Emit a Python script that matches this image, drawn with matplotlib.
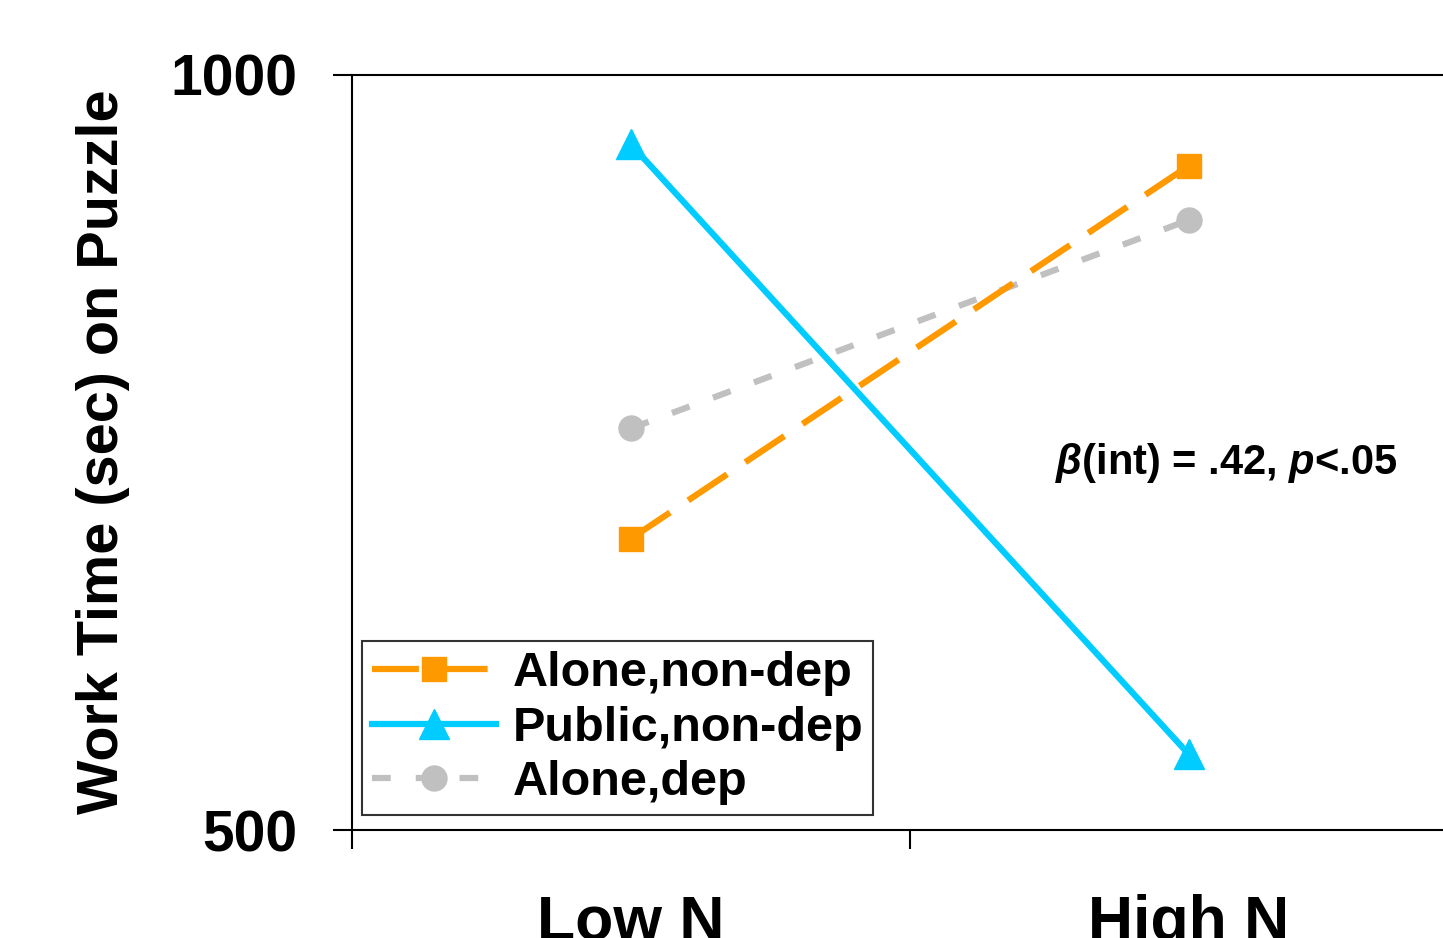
import matplotlib
import matplotlib.pyplot as plt

matplotlib.use('agg')

plt.rcParams['font.family'] = ['Liberation Sans', 'DejaVu Sans']
plt.rcParams['font.weight'] = 'bold'
plt.rcParams['mathtext.fontset'] = 'custom'
plt.rcParams['mathtext.it'] = 'Liberation Sans:italic:bold'

categories = ['Low N', 'High N']
x_pos = [0.5, 1.5]
alone_nondep = [693, 940]
public_nondep = [954, 550]
alone_dep = [766, 904]
series_names = ['Alone,non-dep', 'Public,non-dep', 'Alone,dep']

px = 1 / 100
fig = plt.figure(figsize=(1443 * px, 938 * px), dpi=100, facecolor='white')
ax = fig.add_axes([352 / 1443, 108 / 938, 1116 / 1443, 755 / 938])

ax.plot(x_pos, alone_nondep, color='#FF9900', lw=4.5, dashes=(7.5, 3.5),
        marker='s', ms=17, label=series_names[0], zorder=3)
ax.plot(x_pos, public_nondep, color='#00CCFF', lw=4.5, ls='-',
        marker='^', ms=21, label=series_names[1], zorder=4)
ax.plot(x_pos, alone_dep, color='#C0C0C0', lw=4.5, dashes=(3, 4),
        marker='o', ms=18, label=series_names[2], zorder=2)

ax.set_xlim(0, 2)
ax.set_ylim(500, 1000)
ax.set_yticks([500, 1000])
ax.set_yticklabels(['500', '1000'], fontsize=41, fontweight='bold')
ax.tick_params(axis='y', direction='out', length=14, width=1.5, pad=25)

ax.set_xticks([0, 1, 2])
ax.set_xticklabels([])
ax.set_xticks(x_pos, minor=True)
ax.set_xticklabels(categories, minor=True, fontsize=45, fontweight='bold')
ax.tick_params(axis='x', which='major', direction='out', length=14, width=1.5)
ax.tick_params(axis='x', which='minor', length=0, pad=46)

for side in ['left', 'bottom', 'top', 'right']:
    ax.spines[side].set_linewidth(1.5)

fig.text(103 / 1443, 486 / 938, 'Work Time (sec) on Puzzle', rotation=90,
         fontsize=41.5, fontweight='bold', ha='center', va='center')

ax.text(1.26, 743, r'$\beta$(int) = .42, $p$<.05', fontsize=30,
        fontweight='bold', ha='left', va='center')

leg = ax.legend(loc='lower left', bbox_to_anchor=(10 / 1116, 15 / 755),
                prop={'weight': 'bold', 'size': 35},
                frameon=True, fancybox=False, edgecolor='black',
                handlelength=2.55, handletextpad=0.35, borderpad=0.2,
                borderaxespad=0, labelspacing=0.2)
leg.get_frame().set_linewidth(1.5)

fig.savefig('out.png', dpi=100, facecolor='white')
